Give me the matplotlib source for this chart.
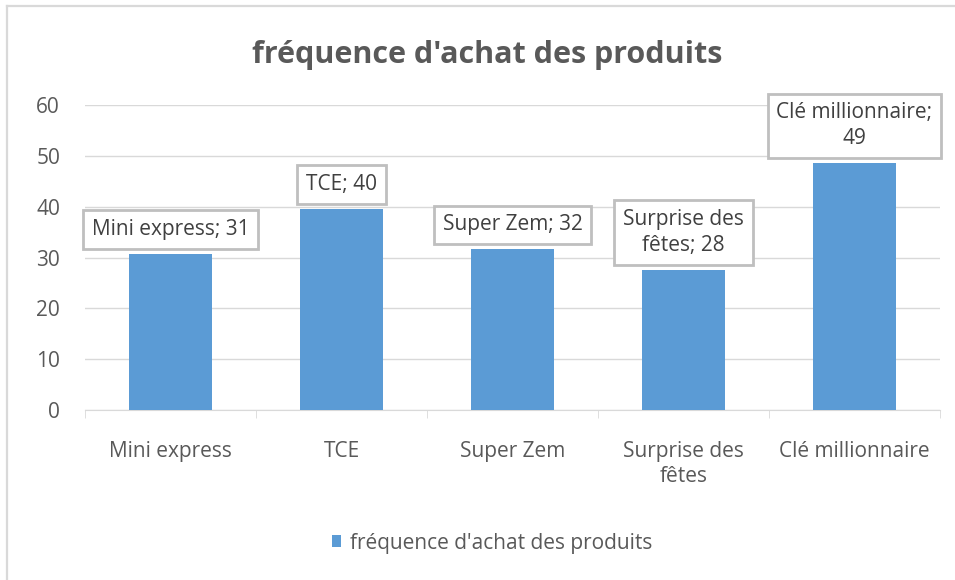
import numpy as np
import matplotlib.pyplot as plt
from matplotlib.lines import Line2D

# Data
categories = ['Mini express', 'TCE', 'Super Zem', 'Surprise des fêtes', 'Clé millionnaire']
tick_labels = ['Mini express', 'TCE', 'Super Zem', 'Surprise des\nfêtes', 'Clé millionnaire']
values = [30.7, 39.6, 31.6, 27.6, 48.6]
point_labels = ['Mini express; 31', 'TCE; 40', 'Super Zem; 32', 'Surprise des\nfêtes; 28', 'Clé millionnaire;\n49']
series_name = "fréquence d'achat des produits"
yticks = [0, 10, 20, 30, 40, 50, 60]

plt.rcParams['font.family'] = ['Open Sans', 'DejaVu Sans']
grid_col = '#D9D9D9'
text_col = '#595959'
bar_col = '#5B9BD5'

fig = plt.figure(figsize=(9.55, 5.8), dpi=100)
ax = fig.add_axes([85 / 955, 1 - 410 / 580, 855 / 955, 305 / 580])

# Chart border (only top and left edges fall inside the picture)
fig.add_artist(Line2D([7 / 955, 1], [1 - 6 / 580, 1 - 6 / 580], transform=fig.transFigure,
                      color=grid_col, linewidth=1.6))
fig.add_artist(Line2D([7 / 955, 7 / 955], [0, 1 - 6 / 580], transform=fig.transFigure,
                      color=grid_col, linewidth=1.6))

x = np.arange(len(categories))
bars = ax.bar(x, values, width=0.48, color=bar_col, zorder=3, label=series_name)

ax.set_ylim(0, 60)
ax.set_xlim(-0.5, len(categories) - 0.5)
ax.set_yticks(yticks)
ax.yaxis.grid(True, color=grid_col, linewidth=1, zorder=0)
for s in ['top', 'right', 'left']:
    ax.spines[s].set_visible(False)
ax.spines['bottom'].set_color(grid_col)
ax.tick_params(axis='y', length=0, pad=18, labelsize=15, labelcolor=text_col)
ax.set_xticks(x)
ax.set_xticklabels(tick_labels, linespacing=1.25)
ax.tick_params(axis='x', which='major', length=0, pad=22, labelsize=15, labelcolor=text_col)
ax.set_xticks(np.arange(-0.5, len(categories)), minor=True)
ax.tick_params(axis='x', which='minor', length=6, color=grid_col)

# Data labels in boxes
for xi, v, lab in zip(x, values, point_labels):
    ax.annotate(lab, (xi, v), xytext=(0, 10), textcoords='offset points',
                ha='center', va='bottom', fontsize=15, color='#404040', zorder=5,
                linespacing=1.3,
                bbox=dict(boxstyle='square,pad=0.42', fc='white', ec='#BFBFBF', lw=2))

fig.text(487 / 955, 1 - 55 / 580, series_name, ha='center', va='center',
         fontsize=22, fontweight='bold', color=text_col)

fig.legend(handles=[bars], labels=[series_name], loc='center', bbox_to_anchor=(492 / 955, 1 - 543 / 580),
           frameon=False, fontsize=15, labelcolor=text_col, handlelength=0.45, handleheight=0.45,
           handletextpad=0.4)

fig.savefig('out.png', dpi=100)
